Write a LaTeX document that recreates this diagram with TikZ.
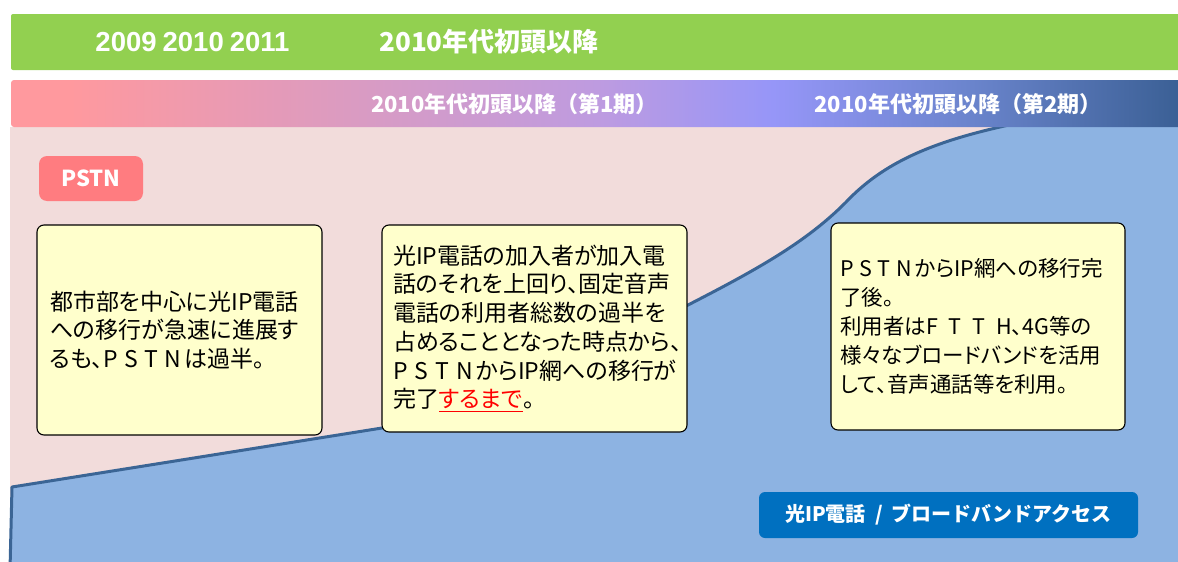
\documentclass[tikz,border=0pt]{standalone}
\usepackage{fontspec}
\newfontfamily\jp{Noto Sans CJK JP}[RawFeature=+palt]
\newfontfamily\jpn{Noto Sans CJK JP}
\newfontfamily\arl{Liberation Sans}
\definecolor{greenbar}{HTML}{92D050}
\definecolor{pinkbg}{HTML}{F2DCDB}
\definecolor{bluefill}{HTML}{8DB3E2}
\definecolor{blueline}{HTML}{3B6595}
\definecolor{yellowbox}{HTML}{FFFFCC}
\definecolor{pstnred}{HTML}{FF7C80}
\definecolor{labelblue}{HTML}{0070C0}
\definecolor{g0}{HTML}{FF999E}
\definecolor{g1}{HTML}{D99BC3}
\definecolor{g2}{HTML}{BE9BE0}
\definecolor{g3}{HTML}{9696F8}
\definecolor{g4}{HTML}{6A84CC}
\definecolor{g5}{HTML}{3A5F94}
\pgfdeclarehorizontalshading{barshade}{100bp}{color(0bp)=(g0); color(27.5bp)=(g0); color(40bp)=(g1); color(50bp)=(g2); color(57.5bp)=(g3); color(66bp)=(g4); color(75bp)=(g5); color(100bp)=(g5)}
\newcommand\redul[1]{{\color{red}\setbox0\hbox{#1}\rlap{\rule[-4.5pt]{\wd0}{1.6pt}}\box0}}
\newcommand\spreadtxt[2]{\makebox[#1][s]{#2}}
\begin{document}
\begin{tikzpicture}[x=1pt,y=-1pt,
  ybox/.style={draw=black, line width=1.1pt, fill=yellowbox, rounded corners=7pt, align=left, inner ysep=0pt, anchor=center, text=black},
  tag/.style={text=white, inner sep=0pt, anchor=center},
  bartext/.style={text=white, inner sep=0pt, anchor=center}]
\useasboundingbox (0,0) rectangle (1178,562);
\clip (0,0) rectangle (1178,562);
% background
\fill[pinkbg] (10,127) rectangle (1185,570);
\fill[bluefill] (10,570) -- (12,487) -- (382,428) .. controls (500,405) and (600,350) .. (688,305) .. controls (760,268) and (810,240) .. (850,198) .. controls (885,163) and (930,143) .. (1000,127) -- (1185,127) -- (1185,570) -- cycle;
\draw[blueline, line width=3pt, line join=round] (10,570) -- (12,487) -- (382,428) .. controls (500,405) and (600,350) .. (688,305) .. controls (760,268) and (810,240) .. (850,198) .. controls (885,163) and (930,143) .. (1000,127) -- (1030,120);
% bars
\fill[greenbar, rounded corners=2pt] (11,14) rectangle (1190,70);
\shade[shading=barshade, rounded corners=3pt] (11,80) rectangle (1183,127);
\node[bartext, font=\arl\bfseries\fontsize{27.5}{30}\selectfont] (yrs) at (192.5,42) {2009\hspace{6pt}2010\hspace{6pt}2011};
\node[bartext, font=\jpn\bfseries\fontsize{26}{30}\selectfont] (early) at (489,42) {2010年代初頭以降};
\node[bartext, font=\jpn\bfseries\fontsize{22}{26}\selectfont] (ph1) at (514.5,104) {2010年代初頭以降（第1期）};
\node[bartext, font=\jpn\bfseries\fontsize{22}{26}\selectfont] (ph2) at (958,104) {2010年代初頭以降（第2期）};
% tags
\node[tag, fill=pstnred, rounded corners=8pt, minimum width=104pt, minimum height=45pt, font=\jpn\bfseries\fontsize{22}{24}\selectfont] (pstn) at (91,178.5) {PSTN};
\node[tag, fill=labelblue, rounded corners=6pt, minimum width=379pt, minimum height=46pt, font=\jpn\bfseries\fontsize{20}{24}\selectfont] (ipl) at (948.5,515) {光IP電話 \ / \ ブロードバンドアクセス};
% boxes
\node[ybox, text width=259pt, inner xsep=13pt, minimum height=210pt, font=\jp\fontsize{23}{28.7}\selectfont] (b1) at (179.5,330) {都市部を中心に光IP電話\\への移行が急速に進展す\\るも、\spreadtxt{78pt}{P\hfil S\hfil T\hfil N}\kern3pt は過半。};
\node[ybox, text width=283pt, inner xsep=11pt, minimum height=207pt, font=\jp\fontsize{23}{28.7}\selectfont] (b2) at (534.5,328.5) {光IP電話の加入者が加入電\\話のそれを上回り、固定音声\\電話の利用者総数の過半を\\占めることとなった時点から、\\\spreadtxt{80pt}{P\hfil S\hfil T\hfil N}\kern3pt からIP網への移行が\\完了\redul{するまで}。};
\node[ybox, text width=276pt, inner xsep=9pt, minimum height=207pt, font=\jp\fontsize{21.5}{29}\selectfont] (b3) at (978,326.5) {\spreadtxt{72pt}{P\hfil S\hfil T\hfil N}\kern3pt からIP網への移行完\\了後。\\利用者は\spreadtxt{86pt}{F\hfil T\hfil T\hfil H}、4G等の\\様々なブロードバンドを活用\\して、音声通話等を利用。};
\end{tikzpicture}
\end{document}
